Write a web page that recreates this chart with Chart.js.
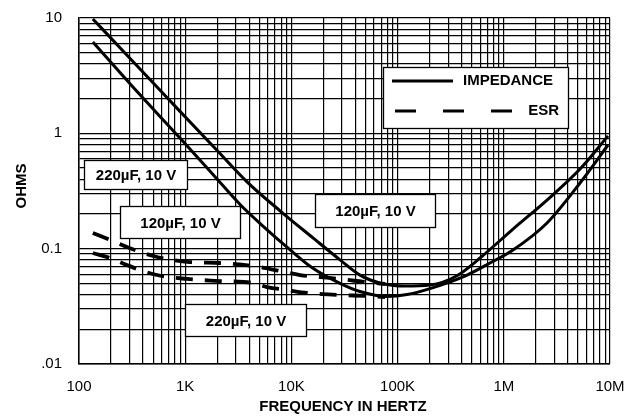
<!DOCTYPE html>
<html>
<head>
<meta charset="utf-8">
<script src="https://cdn.jsdelivr.net/npm/chart.js@4.4.1/dist/chart.umd.min.js"></script>
<style>
  html, body { margin: 0; padding: 0; background: #fff; }
  #wrap { width: 629px; height: 420px; }
</style>
</head>
<body>
<div id="wrap"><canvas id="chart" width="629" height="420"></canvas></div>
<script>
// Axis decades and the labels printed under / beside them
const xDecades = [100, 1e3, 1e4, 1e5, 1e6, 1e7];
const xTickLabels = ['100', '1K', '10K', '100K', '1M', '10M'];
const yDecades = [0.01, 0.1, 1, 10];
const yTickLabels = ['.01', '0.1', '1', '10'];

// Impedance curves (Hz, ohms)
const z120Freq = [135, 322, 893, 2000, 3820, 7810, 15970, 28680, 44240, 67900, 116000, 201900, 362500, 605000, 1221000, 2552000, 5220000, 9580000];
const z120Ohms = [9.8, 4.2, 1.55, 0.71, 0.38, 0.213, 0.124, 0.080, 0.059, 0.0504, 0.0474, 0.0484, 0.0583, 0.0838, 0.148, 0.264, 0.49, 0.95];
const z220Freq = [135, 322, 893, 1827, 3270, 5700, 9090, 15970, 28680, 44240, 79470, 122600, 201900, 412900, 741500, 1221000, 2552000, 5220000, 9580000];
const z220Ohms = [6.19, 2.52, 0.91, 0.44, 0.243, 0.150, 0.103, 0.0675, 0.050, 0.0425, 0.0385, 0.040, 0.045, 0.0568, 0.0751, 0.0974, 0.167, 0.371, 0.792];

// ESR curves
const esr120Freq = [135, 196, 302, 543, 1110, 2127, 4348, 7810, 12050, 18590, 28680, 49320, 76100];
const esr120Ohms = [0.137, 0.119, 0.101, 0.0847, 0.0766, 0.0751, 0.0707, 0.064, 0.0591, 0.0568, 0.0546, 0.0514, 0.0494];
const esr220Freq = [135, 196, 283, 375, 543, 1040, 2127, 4348, 5890, 9090, 14030, 28680, 49320, 76100];
const esr220Ohms = [0.0917, 0.083, 0.0722, 0.0653, 0.0591, 0.0546, 0.0524, 0.0504, 0.0465, 0.0438, 0.0413, 0.0397, 0.0389, 0.0381];

const legendLabels = ['IMPEDANCE', 'ESR'];
const partLabels = ['220\u00b5F, 10 V', '120\u00b5F, 10 V', '120\u00b5F, 10 V', '220\u00b5F, 10 V'];

const FONT = '"Liberation Sans", Arial, Helvetica, sans-serif';

function toPoints(xs, ys) {
    return xs.map((x, i) => ({ x: x, y: ys[i] }));
}

// 1..9 x every decade, plus the last decade
function logTicks(decades) {
    const out = [];
    for (let i = 0; i < decades.length - 1; i++) {
        for (let k = 1; k <= 9; k++) {
            out.push(k === 1 ? decades[i] : Number((k * decades[i]).toPrecision(6)));
        }
    }
    out.push(decades[decades.length - 1]);
    return out.map(v => ({ value: v }));
}

const solid = { borderColor: '#000', borderWidth: 3, pointRadius: 0, fill: false, cubicInterpolationMode: 'monotone' };
const dashed = { borderColor: '#000', borderWidth: 3.8, borderDash: [17, 12], pointRadius: 0, fill: false, cubicInterpolationMode: 'monotone' };

// Legend box, part-number boxes and axis titles
const overlay = {
    id: 'overlay',
    afterDraw(chart) {
        const ctx = chart.ctx;
        ctx.save();

        function box(x, y, w, h) {
            ctx.fillStyle = '#fff';
            ctx.fillRect(x, y, w, h);
            ctx.strokeStyle = '#000';
            ctx.lineWidth = 1.3;
            ctx.strokeRect(x, y, w, h);
        }

        // legend
        box(383.5, 67.5, 185, 61);
        ctx.strokeStyle = '#000';
        ctx.lineWidth = 3;
        ctx.setLineDash([]);
        ctx.beginPath();
        ctx.moveTo(392, 81); ctx.lineTo(453, 81);
        ctx.stroke();
        ctx.setLineDash([21, 27]);
        ctx.beginPath();
        ctx.moveTo(395, 111); ctx.lineTo(516, 111);
        ctx.stroke();
        ctx.setLineDash([]);
        ctx.fillStyle = '#000';
        ctx.font = 'bold 15px ' + FONT;
        ctx.textBaseline = 'middle';
        ctx.textAlign = 'left';
        ctx.fillText(legendLabels[0], 463, 81);
        ctx.textAlign = 'right';
        ctx.fillText(legendLabels[1], 559, 111);

        // part labels
        const boxes = [
            [84.5, 160.5, 103, 29],
            [120.5, 206.5, 120, 32],
            [315.5, 194.5, 120, 33],
            [185.5, 304.5, 121, 32]
        ];
        boxes.forEach((b, i) => {
            box(b[0], b[1], b[2], b[3]);
            ctx.fillStyle = '#000';
            ctx.textAlign = 'center';
            ctx.fillText(partLabels[i], b[0] + b[2] / 2, b[1] + b[3] / 2 + 1);
        });

        // axis titles
        ctx.textAlign = 'center';
        ctx.fillText('FREQUENCY IN HERTZ', 343, 407);
        ctx.translate(22, 186);
        ctx.rotate(-Math.PI / 2);
        ctx.fillText('OHMS', 0, 0);
        ctx.restore();
    }
};

Chart.defaults.color = '#000';
Chart.defaults.font.family = FONT;

new Chart(document.getElementById('chart'), {
    type: 'line',
    data: {
        datasets: [
            Object.assign({ label: 'Z 120uF', data: toPoints(z120Freq, z120Ohms) }, solid),
            Object.assign({ label: 'Z 220uF', data: toPoints(z220Freq, z220Ohms) }, solid),
            Object.assign({ label: 'ESR 120uF', data: toPoints(esr120Freq, esr120Ohms) }, dashed),
            Object.assign({ label: 'ESR 220uF', data: toPoints(esr220Freq, esr220Ohms) }, dashed)
        ]
    },
    options: {
        responsive: false,
        animation: false,
        devicePixelRatio: 1,
        events: [],
        layout: { padding: { top: 18, right: 19, left: 0, bottom: 0 } },
        plugins: {
            legend: { display: false },
            tooltip: { enabled: false }
        },
        scales: {
            x: {
                type: 'logarithmic',
                min: xDecades[0],
                max: xDecades[xDecades.length - 1],
                afterBuildTicks: s => { s.ticks = logTicks(xDecades); },
                // fixed axis band; labels may overhang into the layout padding
                afterFit: s => { s.height = 56; s.paddingLeft = 0; s.paddingRight = 0; },
                grid: { color: '#000', lineWidth: 1.2, drawTicks: false },
                border: { color: '#000', width: 1.5 },
                ticks: {
                    autoSkip: false, maxRotation: 0, minRotation: 0, padding: 14,
                    font: { size: 15 },
                    callback: v => {
                        const i = xDecades.indexOf(v);
                        return i >= 0 ? xTickLabels[i] : '';
                    }
                }
            },
            y: {
                type: 'logarithmic',
                min: yDecades[0],
                max: yDecades[yDecades.length - 1],
                afterBuildTicks: s => { s.ticks = logTicks(yDecades); },
                afterFit: s => { s.width = 79; s.paddingTop = 0; s.paddingBottom = 0; },
                grid: { color: '#000', lineWidth: 1.2, drawTicks: false },
                border: { color: '#000', width: 1.5 },
                ticks: {
                    autoSkip: false, padding: 17,
                    font: { size: 15 },
                    callback: v => {
                        const i = yDecades.indexOf(v);
                        return i >= 0 ? yTickLabels[i] : '';
                    }
                }
            }
        }
    },
    plugins: [overlay]
});
</script>
</body>
</html>
